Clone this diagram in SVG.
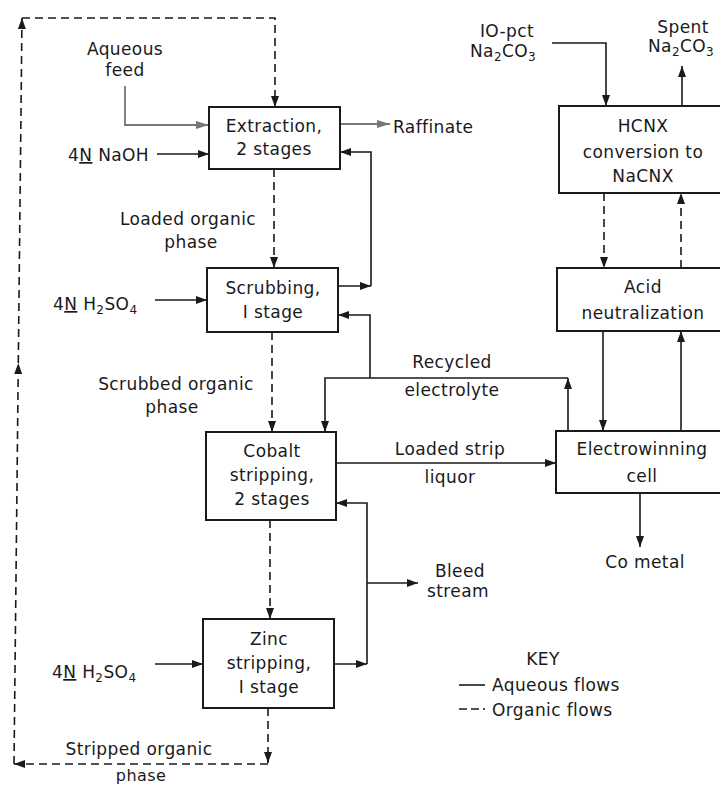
<svg xmlns="http://www.w3.org/2000/svg" width="720" height="787" viewBox="0 0 720 787">
<defs>
<style>
text{font-family:"DejaVu Sans","Liberation Sans",sans-serif;font-size:17px;fill:#1a1a1a;letter-spacing:0.4px}
.c{text-anchor:middle}
.box{fill:#fff;stroke:#1a1a1a;stroke-width:2}
.aq{fill:none;stroke:#1a1a1a;stroke-width:1.6}
.gr{fill:none;stroke:#777;stroke-width:1.8}
.org{fill:none;stroke:#1a1a1a;stroke-width:1.6;stroke-dasharray:8 5}
.sub{font-size:12px}
</style>
<marker id="a" markerUnits="userSpaceOnUse" markerWidth="12" markerHeight="10" refX="11" refY="5" orient="auto"><path d="M0,1 L11,5 L0,9 Z" fill="#1a1a1a"/></marker>
<marker id="g" markerUnits="userSpaceOnUse" markerWidth="14" markerHeight="10" refX="13" refY="5" orient="auto"><path d="M0,1 L13,5 L0,9 Z" fill="#777"/></marker>
</defs>
<rect width="720" height="787" fill="#fff"/>

<g id="connectors">
<!-- organic flows -->
<path class="org" d="M268,708 V763" marker-end="url(#a)"/>
<path class="org" d="M268,764 H14" marker-end="url(#a)"/>
<path class="org" d="M14,764 L18.3,363" marker-end="url(#a)"/>
<path class="org" d="M18.3,363 L22,18" marker-end="url(#a)"/>
<path class="org" d="M22,18 H275 V107" marker-end="url(#a)"/>
<path class="org" d="M274,169 V268" marker-end="url(#a)"/>
<path class="org" d="M272,332 V432" marker-end="url(#a)"/>
<path class="org" d="M270,520 V619" marker-end="url(#a)"/>
<path class="org" d="M604,193 V268" marker-end="url(#a)"/>
<path class="org" d="M681,268 V193" marker-end="url(#a)"/>
<!-- aqueous flows -->
<path class="gr" d="M125,86 V125 H209" marker-end="url(#g)"/>
<path class="aq" d="M157,154 H209" marker-end="url(#a)"/>
<path class="gr" d="M340,124 H390" marker-end="url(#g)"/>
<path class="aq" d="M338,286 H371" marker-end="url(#a)"/>
<path class="aq" d="M371,286 V152 H340" marker-end="url(#a)"/>
<path class="aq" d="M155,300 H207" marker-end="url(#a)"/>
<path class="aq" d="M568,431 V378" marker-end="url(#a)"/>
<path class="aq" d="M568,378 H325 V432" marker-end="url(#a)"/>
<path class="aq" d="M370,378 V315 H338" marker-end="url(#a)"/>
<path class="aq" d="M336,463 H556" marker-end="url(#a)"/>
<path class="aq" d="M334,664 H367" marker-end="url(#a)"/>
<path class="aq" d="M367,664 V503 H336" marker-end="url(#a)"/>
<path class="aq" d="M367,583 H418" marker-end="url(#a)"/>
<path class="aq" d="M155,664 H203" marker-end="url(#a)"/>
<path class="aq" d="M552,43 H606 V106" marker-end="url(#a)"/>
<path class="aq" d="M682,106 V66" marker-end="url(#a)"/>
<path class="aq" d="M603,331 V431" marker-end="url(#a)"/>
<path class="aq" d="M681,431 V331" marker-end="url(#a)"/>
<path class="aq" d="M640,493 V547" marker-end="url(#a)"/>
</g>

<g id="extraction">
<rect class="box" x="209" y="107" width="131" height="62"/>
<text class="c" x="274" y="132">Extraction,</text>
<text class="c" x="274" y="155">2 stages</text>
</g>
<g id="scrubbing">
<rect class="box" x="207" y="268" width="131" height="64"/>
<text class="c" x="273" y="294">Scrubbing,</text>
<text class="c" x="273" y="318">I stage</text>
</g>
<g id="cobalt">
<rect class="box" x="206" y="432" width="130" height="88"/>
<text class="c" x="272" y="457">Cobalt</text>
<text class="c" x="272" y="481">stripping,</text>
<text class="c" x="272" y="505">2 stages</text>
</g>
<g id="zinc">
<rect class="box" x="203" y="619" width="131" height="89"/>
<text class="c" x="269" y="645">Zinc</text>
<text class="c" x="269" y="669">stripping,</text>
<text class="c" x="269" y="693">I stage</text>
</g>
<g id="hcnx">
<rect class="box" x="559" y="106" width="175" height="87"/>
<text class="c" x="643" y="132">HCNX</text>
<text class="c" x="643" y="158">conversion to</text>
<text class="c" x="643" y="182">NaCNX</text>
</g>
<g id="acid">
<rect class="box" x="557" y="268" width="177" height="63"/>
<text class="c" x="643" y="293">Acid</text>
<text class="c" x="643" y="319">neutralization</text>
</g>
<g id="electrowinning">
<rect class="box" x="556" y="431" width="178" height="62"/>
<text class="c" x="642" y="455">Electrowinning</text>
<text class="c" x="642" y="482">cell</text>
</g>

<g id="labels">
<text class="c" x="125" y="55">Aqueous</text>
<text class="c" x="125" y="76">feed</text>
<text x="68" y="161">4<tspan text-decoration="underline">N</tspan> NaOH</text>
<text x="393" y="133">Raffinate</text>
<text class="c" x="507" y="37">IO-pct</text>
<text x="470" y="57">Na<tspan class="sub" dy="4">2</tspan><tspan dy="-4">CO</tspan><tspan class="sub" dy="4">3</tspan></text>
<text class="c" x="683" y="33">Spent</text>
<text x="648" y="52">Na<tspan class="sub" dy="4">2</tspan><tspan dy="-4">CO</tspan><tspan class="sub" dy="4">3</tspan></text>
<text class="c" x="188" y="225">Loaded organic</text>
<text class="c" x="191" y="248">phase</text>
<text x="53" y="310">4<tspan text-decoration="underline">N</tspan> H<tspan class="sub" dy="4">2</tspan><tspan dy="-4">SO</tspan><tspan class="sub" dy="4">4</tspan></text>
<text class="c" x="176" y="390">Scrubbed organic</text>
<text class="c" x="172" y="413">phase</text>
<text class="c" x="452" y="368">Recycled</text>
<text class="c" x="452" y="396">electrolyte</text>
<text class="c" x="450" y="455">Loaded strip</text>
<text class="c" x="450" y="483">liquor</text>
<text class="c" x="645" y="568">Co metal</text>
<text class="c" x="460" y="577">Bleed</text>
<text class="c" x="458" y="597">stream</text>
<text x="52" y="678">4<tspan text-decoration="underline">N</tspan> H<tspan class="sub" dy="4">2</tspan><tspan dy="-4">SO</tspan><tspan class="sub" dy="4">4</tspan></text>
<text class="c" x="139" y="755">Stripped organic</text>
<text class="c" x="141" y="781" style="font-size:16px">phase</text>
</g>

<g id="key">
<text class="c" x="543" y="665">KEY</text>
<path class="aq" d="M459,685 H485"/>
<text x="492" y="691">Aqueous flows</text>
<path class="aq" d="M459,709 H485" stroke-dasharray="8 4"/>
<text x="492" y="716">Organic flows</text>
</g>
</svg>
